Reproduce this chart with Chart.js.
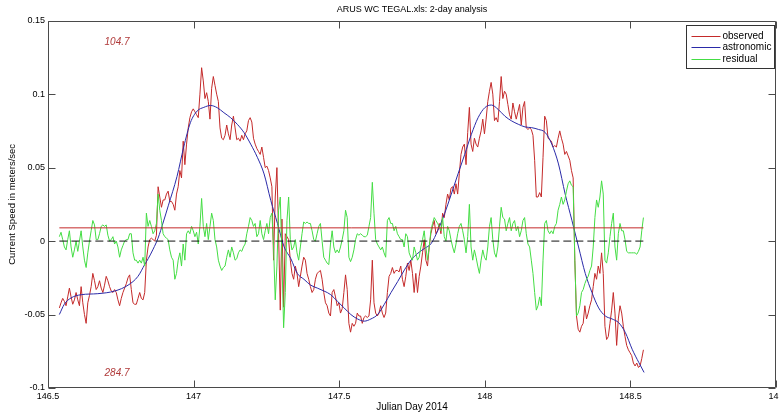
<!DOCTYPE html>
<html>
<head>
<meta charset="utf-8">
<script src="https://cdn.jsdelivr.net/npm/chart.js@4.4.1/dist/chart.umd.min.js"></script>
<style>
html, body { margin: 0; padding: 0; background: #fff; overflow: hidden; }
canvas { display: block; }
</style>
</head>
<body>
<canvas id="speedChart" width="779" height="414" style="width:779px;height:414px"></canvas>
<script>
// observed current speed (m/s), one value per sample
const observed = [
    // 146.54 - 146.93
    -0.0455, -0.042, -0.039, -0.041, -0.044, -0.038, -0.032, -0.038, -0.043, -0.040,
    -0.035, -0.040, -0.044, -0.031, -0.042, -0.050, -0.056, -0.042, -0.037, -0.031,
    -0.022, -0.027, -0.033, -0.031, -0.027, -0.032, -0.035, -0.030, -0.024, -0.027,
    -0.031, -0.034, -0.035, -0.033, -0.035, -0.040, -0.044, -0.039, -0.035, -0.032,
    -0.029, -0.025, -0.023, -0.033, -0.042, -0.043, -0.043, -0.039, -0.035, -0.039,
    -0.040, -0.035, -0.013, -0.004, 0.001, 0.002, 0.001, 0.000, 0.004, 0.037,
    0.030, 0.023, 0.028, 0.028, 0.032, 0.034, 0.027, 0.027, 0.025,
    // 146.94 - 147.35
    0.021, 0.032, 0.037, 0.048, 0.043, 0.068, 0.052, 0.066, 0.077, 0.084,
    0.088, 0.090, 0.088, 0.086, 0.084, 0.100, 0.118, 0.109, 0.097, 0.101,
    0.095, 0.083, 0.104, 0.112, 0.106, 0.100, 0.095, 0.077, 0.070, 0.069,
    0.072, 0.079, 0.073, 0.069, 0.079, 0.085, 0.077, 0.069, 0.070, 0.068,
    0.072, 0.069, 0.073, 0.075, 0.082, 0.084, 0.081, 0.070, 0.066, 0.063,
    0.061, 0.059, 0.064, 0.057, 0.050, 0.051, 0.048, 0.043, 0.037, -0.013,
    0.030, 0.050, 0.005, -0.047, 0.015, -0.045, 0.005, 0.003, 0.001, -0.013,
    -0.022, -0.026, -0.017,
    // 147.36 - 147.76
    -0.022, -0.031, -0.024, -0.017, -0.011, -0.013, -0.022, -0.026, -0.031, -0.035,
    -0.033, -0.026, -0.022, -0.021, -0.020, -0.026, -0.035, -0.042, -0.044, -0.049,
    -0.051, -0.035, -0.033, -0.038, -0.044, -0.042, -0.049, -0.046, -0.035, -0.023,
    -0.033, -0.056, -0.062, -0.056, -0.058, -0.056, -0.049, -0.051, -0.051, -0.056,
    -0.052, -0.051, -0.052, -0.051, -0.040, -0.013, -0.042, -0.049, -0.051, -0.049,
    -0.044, -0.049, -0.052, -0.049, -0.035, -0.024, -0.022, -0.018, -0.022, -0.020,
    -0.020, -0.021, -0.017, -0.026, -0.031, -0.024, -0.015, -0.020, -0.013, -0.022,
    -0.035, -0.022,
    // 147.77 - 148.18
    -0.035, -0.024, -0.017, -0.008, 0.001, -0.013, -0.017, -0.004, 0.005, 0.010,
    0.014, 0.005, 0.007, 0.012, 0.005, 0.019, 0.016, 0.025, 0.032, 0.028,
    0.036, 0.037, 0.032, 0.039, 0.032, 0.046, 0.059, 0.064, 0.066, 0.052,
    0.074, 0.091, 0.066, 0.061, 0.070, 0.066, 0.064, 0.070, 0.075, 0.083,
    0.073, 0.083, 0.095, 0.102, 0.108, 0.100, 0.082, 0.084, 0.081, 0.095,
    0.112, 0.097, 0.102, 0.100, 0.093, 0.086, 0.083, 0.094, 0.088, 0.083,
    0.088, 0.093, 0.079, 0.091, 0.095, 0.077, 0.076, 0.077, 0.076, 0.072,
    0.055, 0.030,
    // 148.18 - 148.55
    0.030, 0.033, 0.030, 0.057, 0.085, 0.082, 0.070, 0.069, 0.068, 0.064,
    0.065, 0.064, 0.070, 0.075, 0.070, 0.066, 0.059, 0.061, 0.058, 0.055,
    0.048, 0.043, -0.013, -0.051, -0.060, -0.062, -0.058, -0.056, -0.044, -0.053,
    -0.049, -0.044, -0.040, -0.031, -0.022, -0.026, -0.017, -0.022, -0.008, -0.022,
    -0.058, -0.067, -0.065, -0.056, -0.047, -0.035, -0.049, -0.071, -0.053, -0.044,
    -0.049, -0.058, -0.065, -0.071, -0.074, -0.076, -0.078, -0.083, -0.085, -0.083,
    -0.086, -0.085, -0.080, -0.074
];

// residual (m/s), same samples as observed
const residual = [
    0.003, 0.006, 0.001, -0.004, -0.006, 0.001, 0.007, -0.004, -0.011, -0.006,
    0.000, -0.007, 0.000, 0.007, -0.004, -0.013, -0.018, -0.008, 0.000, 0.007,
    0.014, 0.011, 0.001, 0.001, 0.005, 0.010, 0.011, 0.010, 0.011, 0.004,
    0.000, 0.001, 0.003, -0.002, 0.000, -0.004, -0.011, -0.006, -0.003, 0.000,
    0.001, 0.001, 0.005, 0.005, -0.008, -0.013, -0.013, -0.015, -0.013, -0.015,
    -0.011, -0.017, 0.019, 0.010, 0.014, 0.010, 0.005, 0.007, 0.012, 0.032,
    0.021, 0.014, 0.005, 0.003, 0.002, 0.001, -0.006, -0.011, -0.013,

    -0.026, -0.022, -0.013, -0.008, -0.017, -0.002, -0.013, 0.005, 0.007, 0.005,
    0.010, 0.007, 0.003, 0.006, -0.002, 0.010, 0.029, 0.010, 0.003, 0.012,
    0.001, 0.010, 0.019, 0.014, 0.001, -0.004, -0.013, -0.017, -0.020, -0.018,
    -0.017, -0.011, -0.006, -0.011, -0.004, -0.008, -0.013, -0.012, -0.008, -0.006,
    -0.007, -0.004, -0.002, 0.005, 0.010, 0.016, 0.014, 0.010, 0.012, 0.003,
    0.005, 0.014, 0.005, 0.001, 0.007, 0.012, 0.005, 0.016, 0.019, -0.004,
    -0.040, -0.017, 0.021, 0.030, -0.013, -0.059, -0.035, 0.014, 0.030, 0.001,
    -0.006, -0.004, 0.001,

    -0.008, -0.013, -0.004, 0.005, 0.013, 0.012, 0.013, 0.012, 0.012, 0.007,
    0.001, 0.000, 0.005, 0.010, 0.012, 0.000, -0.011, -0.013, -0.015, -0.016,
    -0.002, 0.007, -0.004, -0.008, -0.006, -0.008, -0.004, 0.001, 0.007, 0.021,
    0.016, -0.011, -0.014, -0.011, -0.006, 0.001, 0.005, 0.004, 0.005, 0.004,
    0.003, 0.003, 0.004, 0.010, 0.016, 0.040, 0.019, 0.001, -0.002, -0.004,
    -0.006, -0.004, -0.008, -0.011, 0.014, 0.016, 0.012, 0.012, 0.007, 0.010,
    0.005, 0.003, 0.001, 0.001, -0.004, 0.005, 0.003, -0.008, -0.011, -0.013,
    -0.004, -0.008,

    -0.013, -0.011, -0.004, 0.001, 0.007, -0.004, -0.013, -0.004, 0.007, 0.012,
    0.016, 0.014, 0.012, 0.010, 0.007, 0.016, 0.003, 0.000, 0.010, 0.007,
    0.001, -0.004, -0.008, -0.002, 0.005, 0.010, 0.012, 0.007, 0.001, -0.008,
    0.003, 0.025, -0.004, -0.013, -0.006, -0.011, -0.017, -0.022, -0.013, -0.006,
    -0.011, -0.013, -0.004, 0.010, 0.016, 0.001, -0.008, -0.011, -0.004, 0.010,
    0.023, 0.016, 0.015, 0.007, 0.012, 0.016, 0.007, 0.012, 0.014, 0.007,
    0.010, 0.003, 0.007, 0.014, 0.016, 0.005, -0.002, -0.004, -0.013, -0.022,
    -0.035, -0.047,

    -0.044, -0.038, -0.044, -0.013, 0.012, 0.014, 0.007, 0.005, 0.007, 0.005,
    0.010, 0.012, 0.021, 0.025, 0.030, 0.025, 0.028, 0.034, 0.039, 0.041,
    0.038, 0.037, -0.013, -0.051, -0.049, -0.044, -0.035, -0.033, -0.029, -0.026,
    -0.024, -0.020, -0.017, -0.004, 0.016, 0.028, 0.023, 0.030, 0.041, 0.032,
    -0.013, -0.015, -0.008, 0.003, 0.012, 0.019, -0.004, -0.013, 0.005, 0.012,
    0.007, 0.007, 0.001, -0.007, -0.008, -0.008, -0.008, -0.008, -0.008, -0.009,
    -0.007, -0.004, 0.007, 0.016
];

// astronomic (predicted) current, smooth curve
const astroDays = [
    146.539, 146.556, 146.579, 146.614, 146.671, 146.729, 146.775, 146.809, 146.832, 146.844,
    146.861, 146.878, 146.896, 146.913, 146.943, 146.966, 146.989, 147.012, 147.035, 147.058,
    147.081, 147.104, 147.127, 147.150, 147.173, 147.196, 147.219, 147.242, 147.265, 147.288,
    147.311, 147.334, 147.356, 147.379, 147.402, 147.425, 147.448, 147.471, 147.494, 147.517,
    147.540, 147.563, 147.586, 147.609, 147.632, 147.655, 147.678, 147.701, 147.724, 147.747,
    147.770, 147.793, 147.816, 147.839, 147.862, 147.885, 147.908, 147.931, 147.954, 147.977,
    148.000, 148.023, 148.046, 148.069, 148.092, 148.115, 148.138, 148.161, 148.184, 148.207,
    148.230, 148.253, 148.276, 148.299, 148.322, 148.345, 148.368, 148.391, 148.414, 148.437,
    148.460, 148.483, 148.506, 148.529, 148.547
];
const astronomic = [
    -0.050, -0.043, -0.0387, -0.0365, -0.0358, -0.034, -0.030, -0.024, -0.016, -0.012,
    -0.0055, 0.002, 0.013, 0.024, 0.044, 0.064, 0.0806, 0.0885, 0.091, 0.0923,
    0.0908, 0.0874, 0.084, 0.0795, 0.0739, 0.066, 0.057, 0.0457, 0.0277, 0.012,
    -0.004, -0.012, -0.022, -0.026, -0.030, -0.032, -0.034, -0.0365, -0.041, -0.0455,
    -0.050, -0.053, -0.0545, -0.053, -0.050, -0.043, -0.035, -0.0275, -0.0196, -0.0128,
    -0.0083, -0.005, -0.0016, 0.0074, 0.0187, 0.032, 0.0457, 0.059, 0.0727, 0.084,
    0.0908, 0.0926, 0.0896, 0.085, 0.0818, 0.0795, 0.0777, 0.0772, 0.076, 0.074,
    0.066, 0.0525, 0.032, 0.0142, -0.004, -0.022, -0.035, -0.0455, -0.051, -0.053,
    -0.0556, -0.0624, -0.0736, -0.0827, -0.0894
];

const sampleStart = 146.539;
const sampleStep = 1 / 174;
const meanLevel = 0.009;

const xTicks = [146.5, 147, 147.5, 148, 148.5, 149];
const yTicks = [-0.1, -0.05, 0, 0.05, 0.1, 0.15];

const seriesNames = ['observed', 'astronomic', 'residual'];
const seriesColors = ['#c42a2a', '#2a2aa8', '#44dd44'];

const noteDay = 146.737;
const notes = [{ text: '104.7', y: 0.1353 }, { text: '284.7', y: -0.0897 }];

const FONT = '"Liberation Sans", Arial, sans-serif';

const sampleDays = observed.map((v, i) => sampleStart + i * sampleStep);
const lastDay = sampleDays[sampleDays.length - 1];

function toPoints(days, values) {
    return values.map((v, i) => ({ x: days[i], y: v }));
}

const axesBox = {
    id: 'axesBox',
    afterDatasetsDraw(chart) {
        const { ctx, chartArea: a, scales } = chart;
        const l = Math.round(a.left) + 0.5, r = Math.round(a.right) - 0.5;
        const t = Math.round(a.top) + 0.5, b = Math.round(a.bottom) - 0.5;
        ctx.save();
        ctx.strokeStyle = '#4a4a4a';
        ctx.lineWidth = 1;
        ctx.beginPath();
        ctx.rect(l, t, r - l, b - t);
        xTicks.forEach(v => {
            const px = Math.round(scales.x.getPixelForValue(v)) + 0.5;
            ctx.moveTo(px, b); ctx.lineTo(px, b - 7);
            ctx.moveTo(px, t); ctx.lineTo(px, t + 7);
        });
        yTicks.forEach(v => {
            const py = Math.round(scales.y.getPixelForValue(v)) + 0.5;
            ctx.moveTo(l, py); ctx.lineTo(l + 7, py);
            ctx.moveTo(r, py); ctx.lineTo(r - 7, py);
        });
        ctx.stroke();

        // heading labels
        ctx.fillStyle = '#b03a3a';
        ctx.font = 'italic 10px ' + FONT;
        ctx.textAlign = 'center';
        ctx.textBaseline = 'middle';
        notes.forEach(n => {
            ctx.fillText(n.text, scales.x.getPixelForValue(noteDay), scales.y.getPixelForValue(n.y));
        });

        // legend box
        const bw = 88, bh = 43;
        const bx = Math.round(a.right) - 89.5, by = Math.round(a.top) + 4.5;
        ctx.fillStyle = '#fff';
        ctx.fillRect(bx, by, bw, bh);
        ctx.strokeStyle = '#333';
        ctx.strokeRect(bx, by, bw, bh);
        ctx.font = '10px ' + FONT;
        ctx.textAlign = 'left';
        seriesNames.forEach((name, i) => {
            const ry = Math.round(by + 10.5 + i * 11.3) + 0.5;
            ctx.strokeStyle = seriesColors[i];
            ctx.beginPath();
            ctx.moveTo(bx + 5, ry);
            ctx.lineTo(bx + 34, ry);
            ctx.stroke();
            ctx.fillStyle = '#000';
            ctx.fillText(name, bx + 36, ry);
        });
        ctx.restore();
    }
};

new Chart(document.getElementById('speedChart'), {
    type: 'line',
    data: {
        datasets: [
            {
                label: 'zero',
                data: toPoints([sampleStart, lastDay], [0, 0]),
                borderColor: '#111',
                borderWidth: 1,
                borderDash: [8, 4],
                order: 0
            },
            {
                label: 'mean',
                data: toPoints([sampleStart, lastDay], [meanLevel, meanLevel]),
                borderColor: '#c42a2a',
                borderWidth: 1,
                order: 1
            },
            {
                label: seriesNames[2],
                data: toPoints(sampleDays, residual),
                borderColor: seriesColors[2],
                borderWidth: 1,
                order: 2
            },
            {
                label: seriesNames[1],
                data: toPoints(astroDays, astronomic),
                borderColor: seriesColors[1],
                borderWidth: 1,
                cubicInterpolationMode: 'monotone',
                order: 3
            },
            {
                label: seriesNames[0],
                data: toPoints(sampleDays, observed),
                borderColor: seriesColors[0],
                borderWidth: 1,
                order: 4
            }
        ]
    },
    options: {
        responsive: false,
        animation: false,
        devicePixelRatio: 1,
        parsing: false,
        elements: { point: { radius: 0 }, line: { tension: 0 } },
        layout: { padding: { left: 0, right: 3, top: 0, bottom: 0 } },
        plugins: {
            legend: { display: false },
            tooltip: { enabled: false },
            title: {
                display: true,
                fullSize: false,
                text: 'ARUS WC TEGAL.xls: 2-day analysis',
                color: '#000',
                font: { family: FONT, size: 9, weight: 'normal', lineHeight: 1.2 },
                padding: { top: 4.5, bottom: 5.4 }
            }
        },
        scales: {
            x: {
                type: 'linear',
                min: 146.5,
                max: 149,
                afterBuildTicks: s => { s.ticks = xTicks.map(v => ({ value: v })); },
                afterFit: s => { s.height = 26; s.paddingLeft = 0; s.paddingRight = 0; },
                ticks: {
                    color: '#000',
                    font: { family: FONT, size: 9 },
                    padding: 3,
                    maxRotation: 0,
                    callback: v => String(v)
                },
                grid: { display: false, drawTicks: false },
                border: { display: false },
                title: {
                    display: true,
                    text: 'Julian Day 2014',
                    color: '#000',
                    font: { family: FONT, size: 10 },
                    padding: { top: 0, bottom: 1 }
                }
            },
            y: {
                type: 'linear',
                min: -0.1,
                max: 0.15,
                afterBuildTicks: s => { s.ticks = yTicks.map(v => ({ value: v })); },
                afterFit: s => { s.width = 48; s.paddingTop = 0; s.paddingBottom = 0; },
                ticks: {
                    color: '#000',
                    font: { family: FONT, size: 9 },
                    padding: 3,
                    callback: v => String(v)
                },
                grid: { display: false, drawTicks: false },
                border: { display: false },
                title: {
                    display: true,
                    text: 'Current Speed in meters/sec',
                    color: '#000',
                    font: { family: FONT, size: 9.5 },
                    padding: { top: 7, bottom: 0 }
                }
            }
        }
    },
    plugins: [axesBox]
});
</script>
</body>
</html>
